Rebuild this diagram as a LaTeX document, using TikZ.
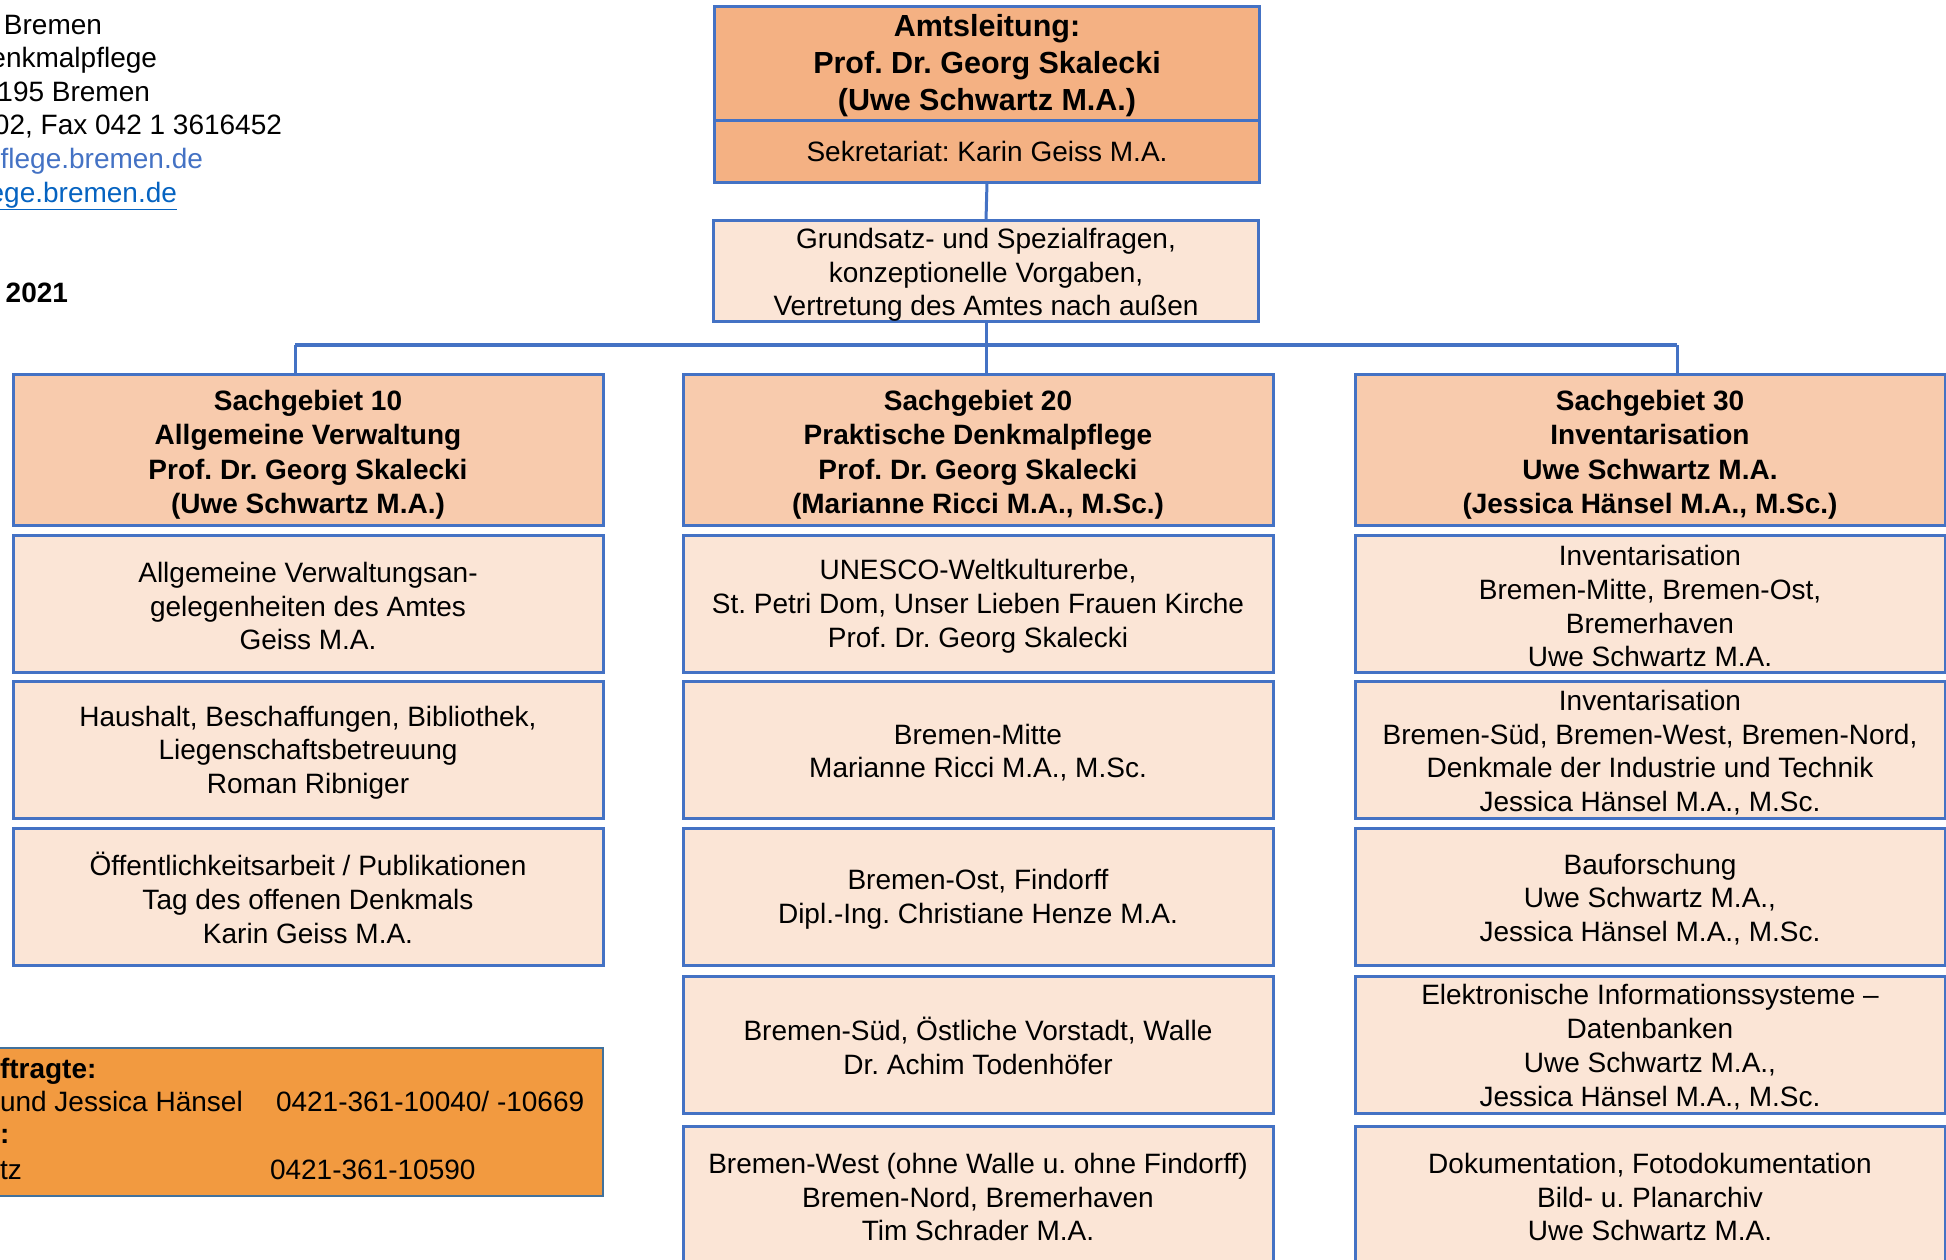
\documentclass[tikz,border=0pt]{standalone}
\usepackage{fontspec}
\setmainfont{Liberation Sans}
\frenchspacing
\definecolor{bordc}{HTML}{4472C4}
\definecolor{amtfill}{HTML}{F4B183}
\definecolor{sgfill}{HTML}{F8CBAD}
\definecolor{subfill}{HTML}{FBE5D6}
\definecolor{orfill}{HTML}{F29A40}
\definecolor{orbord}{HTML}{41719C}
\definecolor{linkA}{HTML}{4472C4}
\definecolor{linkB}{HTML}{0563C1}
\newcommand\hdst{\rule{0pt}{30.5pt}}
\newcommand\sbst{\rule{0pt}{25.5pt}}
\newcommand\grst{\rule{0pt}{27.8pt}}
\newcommand\amst{\rule{0pt}{27.5pt}}
\begin{document}
\frenchspacing
\begin{tikzpicture}[x=1pt,y=-1pt,
  base/.style={draw=bordc, line width=3pt, inner sep=0pt, outer sep=0pt, align=center,
    font=\frenchspacing\fontsize{28pt}{33.8pt}\selectfont},
  colbox/.style={base, minimum width=590pt},
  head/.style={colbox, fill=sgfill, minimum height=151pt,
    font=\frenchspacing\bfseries\fontsize{28pt}{34.3pt}\selectfont},
  sub/.style={colbox, fill=subfill, minimum height=137pt},
  conn/.style={draw=bordc, line width=3pt},
  busline/.style={draw=bordc, line width=4.5pt},
  plain/.style={inner sep=0pt, outer sep=0pt, font=\frenchspacing\fontsize{28pt}{33.8pt}\selectfont},
]
\useasboundingbox (0,0) rectangle (1946,1259);
\clip (0,0) rectangle (1946,1259);

% top-left address block
\node[plain, anchor=base east] (a1) at (102,34) {Bremen};
\node[plain, anchor=base east] (a2) at (157,67) {enkmalpflege};
\node[plain, anchor=base east] (a3) at (150,101) {195 Bremen};
\node[plain, anchor=base east] (a4) at (282,134) {02, Fax 042 1 3616452};
\node[plain, anchor=base east, text=linkA] (a5) at (203,168) {flege.bremen.de};
\node[plain, anchor=base east, text=linkB] (a6) at (177,202) {\underline{ege.bremen.de}};
\node[plain, anchor=base east, font=\bfseries\fontsize{28pt}{33.8pt}\selectfont] (a7) at (68,302) {2021};

% head of office
\node[base, fill=amtfill, minimum width=545pt, minimum height=114pt,
  font=\frenchspacing\bfseries\fontsize{30.5pt}{36.6pt}\selectfont] (amt) at (987,63)
  {\amst Amtsleitung:\\Prof. Dr. Georg Skalecki\\(Uwe Schwartz M.A.)};
\node[base, fill=amtfill, minimum width=545pt, minimum height=62pt] (sek) at (987,151)
  {Sekretariat: Karin Geiss M.A.};
\node[base, fill=subfill, minimum width=545pt, minimum height=100pt] (gr) at (986,271)
  {\grst Grundsatz- und Spezialfragen,\\konzeptionelle Vorgaben,\\Vertretung des Amtes nach außen};

% column heads
\node[head] (sg10) at (308,449.5) {\hdst Sachgebiet 10\\Allgemeine Verwaltung\\Prof. Dr. Georg Skalecki\\(Uwe Schwartz M.A.)};
\node[head] (sg20) at (978,449.5) {\hdst Sachgebiet 20\\Praktische Denkmalpflege\\Prof. Dr. Georg Skalecki\\(Marianne Ricci M.A., M.Sc.)};
\node[head] (sg30) at (1650,449.5) {\hdst Sachgebiet 30\\Inventarisation\\Uwe Schwartz M.A.\\(Jessica Hänsel M.A., M.Sc.)};

% column 10
\node[sub] (l1) at (308,603.5) {\sbst Allgemeine Verwaltungsan-\\gelegenheiten des Amtes\\Geiss M.A.};
\node[sub] (l2) at (308,750) {\sbst Haushalt, Beschaffungen, Bibliothek,\\Liegenschaftsbetreuung\\Roman Ribniger};
\node[sub] (l3) at (308,897) {\sbst Öffentlichkeitsarbeit / Publikationen\\Tag des offenen Denkmals\\Karin Geiss M.A.};

% column 20
\node[sub] (m1) at (978,603.5) {\sbst UNESCO-Weltkulturerbe,\\St. Petri Dom, Unser Lieben Frauen Kirche\\Prof. Dr. Georg Skalecki};
\node[sub] (m2) at (978,750) {\sbst Bremen-Mitte\\Marianne Ricci M.A., M.Sc.};
\node[sub] (m3) at (978,897) {\sbst Bremen-Ost, Findorff\\Dipl.-Ing. Christiane Henze M.A.};
\node[sub] (m4) at (978,1044.5) {\sbst Bremen-Süd, Östliche Vorstadt, Walle\\Dr. Achim Todenhöfer};
\node[sub] (m5) at (978,1194.5) {\sbst Bremen-West (ohne Walle u. ohne Findorff)\\Bremen-Nord, Bremerhaven\\Tim Schrader M.A.};

% column 30
\node[sub] (r1) at (1650,603.5) {\sbst Inventarisation\\Bremen-Mitte, Bremen-Ost,\\Bremerhaven\\Uwe Schwartz M.A.};
\node[sub] (r2) at (1650,750) {\sbst Inventarisation\\Bremen-Süd, Bremen-West, Bremen-Nord,\\Denkmale der Industrie und Technik\\Jessica Hänsel M.A., M.Sc.};
\node[sub] (r3) at (1650,897) {\sbst Bauforschung\\Uwe Schwartz M.A.,\\Jessica Hänsel M.A., M.Sc.};
\node[sub] (r4) at (1650,1044.5) {\sbst Elektronische Informationssysteme –\\Datenbanken\\Uwe Schwartz M.A.,\\Jessica Hänsel M.A., M.Sc.};
\node[sub] (r5) at (1650,1194.5) {\sbst Dokumentation, Fotodokumentation\\Bild- u. Planarchiv\\Uwe Schwartz M.A.};

% contact box
\node[draw=orbord, line width=2.5pt, fill=orfill, minimum width=623pt, minimum height=148pt,
  inner sep=0pt, outer sep=0pt] (kontakt) at (291.5,1122) {};
\node[plain, anchor=base west, font=\bfseries\fontsize{28pt}{33.8pt}\selectfont] (k1) at (0,1078) {ftragte:};
\node[plain, anchor=base west] (k2) at (0,1111) {und Jessica Hänsel};
\node[plain, anchor=base west] (k2n) at (276,1111) {0421-361-10040/ -10669};
\node[plain, anchor=base west, font=\bfseries\fontsize{28pt}{33.8pt}\selectfont] (k3) at (0,1143) {:};
\node[plain, anchor=base west] (k4) at (0,1179) {tz};
\node[plain, anchor=base west] (k4n) at (270,1179) {0421-361-10590};

% connectors
\coordinate (busL) at (295,345);
\coordinate (busR) at (1677,345);
\draw[conn] (sek.south) -- (gr.north);
\draw[conn] (gr.south) -- (gr.south |- sg20.north);
\draw[busline] (busL) -- (busR);
\draw[conn] (busL) -- (busL |- sg10.north);
\draw[conn] (busR) -- (busR |- sg30.north);
\end{tikzpicture}
\end{document}
